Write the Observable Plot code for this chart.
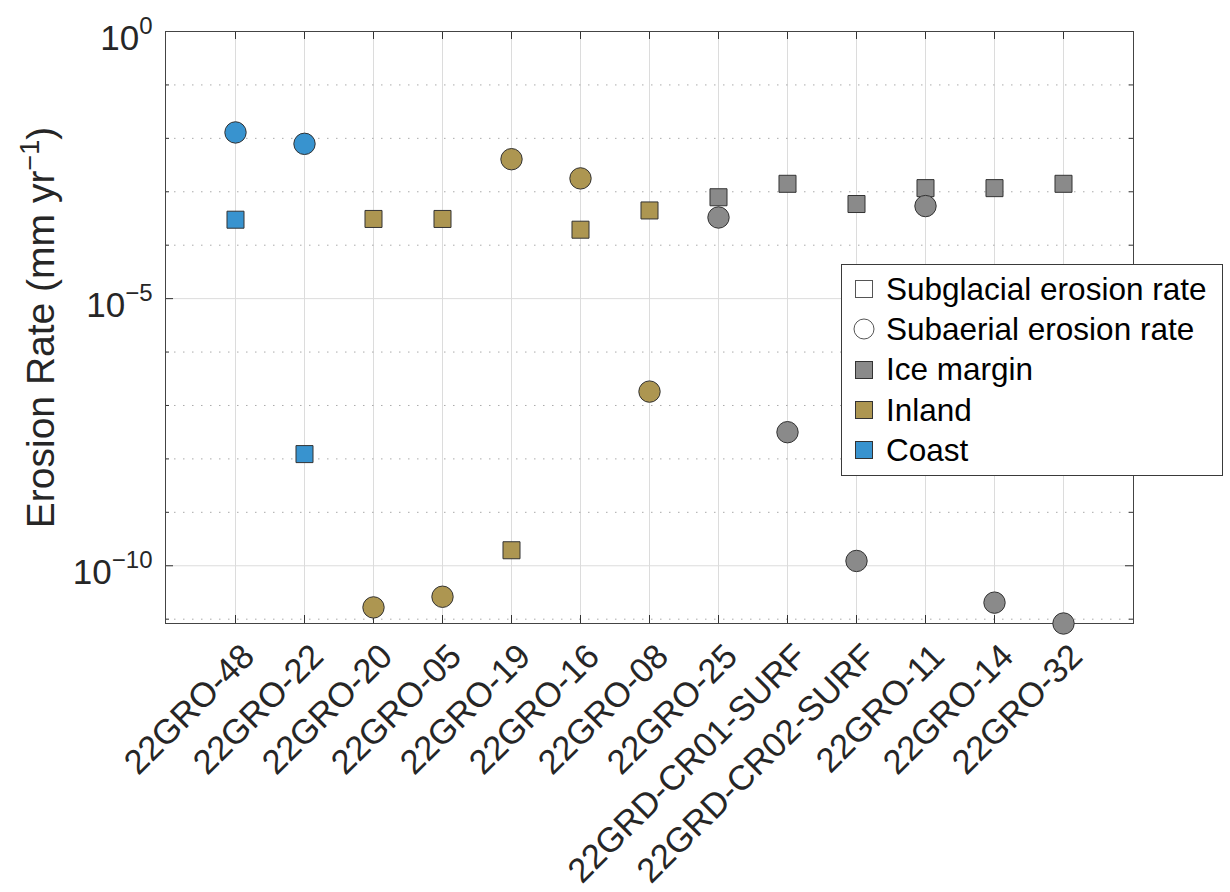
<!DOCTYPE html>
<html>
<head>
<meta charset="utf-8">
<script src="https://cdn.jsdelivr.net/npm/d3@7"></script>
<script src="https://cdn.jsdelivr.net/npm/@observablehq/plot@0.6"></script>
<style>
  body { margin: 0; background: #fff; }
  #wrap { position: relative; width: 1230px; height: 892px; font-family: "Liberation Sans", Arial, Helvetica, sans-serif; }
  #legend { position: absolute; left: 841px; top: 264px; width: 380px; height: 206px; border: 1px solid #3a3a3a; background: #fff; box-sizing: content-box; padding-top: 4px; }
  .item { display: flex; align-items: center; height: 40.3px; font-size: 31.5px; color: #000; white-space: nowrap; }
  .item svg { width: 44px; height: 24px; flex: none; }
</style>
</head>
<body>
<div id="wrap"></div>
<script>
// ---- data ----
const samples = ["22GRO-48", "22GRO-22", "22GRO-20", "22GRO-05", "22GRO-19", "22GRO-16", "22GRO-08",
  "22GRO-25", "22GRD-CR01-SURF", "22GRD-CR02-SURF", "22GRO-11", "22GRO-14", "22GRO-32"];
const region = ["Coast", "Coast", "Inland", "Inland", "Inland", "Inland", "Inland",
  "Ice margin", "Ice margin", "Ice margin", "Ice margin", "Ice margin", "Ice margin"];
const subglacialRate = [3.0e-4, 1.23e-8, 3.1e-4, 3.1e-4, 1.95e-10, 1.95e-4, 4.47e-4,
  7.9e-4, 1.41e-3, 5.9e-4, 1.17e-3, 1.17e-3, 1.41e-3];
const subaerialRate = [1.29e-2, 7.9e-3, 1.66e-11, 2.63e-11, 4.07e-3, 1.78e-3, 1.82e-7,
  3.3e-4, 3.16e-8, 1.23e-10, 5.4e-4, 2.04e-11, 8.3e-12];
const regionNames = ["Ice margin", "Inland", "Coast"];
const regionColors = ["#8a8a8a", "#ad9651", "#3893cf"];
const yMajorTicks = [1e0, 1e-5, 1e-10];
const yMinorTicks = [1e-1, 1e-2, 1e-3, 1e-4, 1e-6, 1e-7, 1e-8, 1e-9, 1e-11];
const yLimits = [8.3e-12, 1];
const yTitle = "Erosion Rate (mm yr^-1)";
const legendLabels = ["Subglacial erosion rate", "Subaerial erosion rate", "Ice margin", "Inland", "Coast"];

// ---- build ----
const subRows = samples.map((s, i) => ({sample: s, region: region[i], value: subglacialRate[i]}));
const aerRows = samples.map((s, i) => ({sample: s, region: region[i], value: subaerialRate[i]}));

const W = 1230, H = 892, mL = 165, mR = 97, mT = 31, mB = 269;
const fw = W - mL - mR, fh = H - mT - mB;
const font = '"Liberation Sans", Arial, Helvetica, sans-serif';
const tickColor = "#333";

const chart = Plot.plot({
  width: W, height: H,
  marginLeft: mL, marginRight: mR, marginTop: mT, marginBottom: mB,
  style: {fontFamily: font, background: "transparent", overflow: "visible", color: "#262626"},
  x: {type: "point", domain: samples, padding: 1, axis: null},
  y: {type: "log", domain: yLimits, axis: null},
  color: {domain: regionNames, range: regionColors},
  marks: [
    Plot.ruleX(samples, {x: d => d, stroke: "#dcdcdc", strokeWidth: 1}),
    Plot.ruleY(yMajorTicks, {y: d => d, stroke: "#dcdcdc", strokeWidth: 1}),
    Plot.ruleY(yMinorTicks, {y: d => d, stroke: "#aaaaaa", strokeWidth: 1, strokeDasharray: "1.5,7.5"}),
    Plot.ruleX(samples, {x: d => d, insetTop: fh - 8, stroke: tickColor}),
    Plot.ruleX(samples, {x: d => d, insetBottom: fh - 8, stroke: tickColor}),
    Plot.ruleY(yMajorTicks, {y: d => d, insetRight: fw - 8, stroke: tickColor}),
    Plot.ruleY(yMajorTicks, {y: d => d, insetLeft: fw - 8, stroke: tickColor}),
    Plot.ruleY(yMinorTicks, {y: d => d, insetRight: fw - 4, stroke: tickColor}),
    Plot.ruleY(yMinorTicks, {y: d => d, insetLeft: fw - 4, stroke: tickColor}),
    Plot.frame({stroke: "#444", strokeWidth: 1}),
    Plot.dot(subRows, {x: "sample", y: "value", symbol: "square", r: 9.6, fill: "region", stroke: "#333", strokeWidth: 1}),
    Plot.dot(aerRows, {x: "sample", y: "value", symbol: "circle", r: 10.7, fill: "region", stroke: "#333", strokeWidth: 1}),
    Plot.axisY({ticks: yMajorTicks, tickSize: 0, tickPadding: 13, fontSize: 35, dy: 7,
      tickFormat: d => "10^" + Math.round(Math.log10(d)), label: null, fill: "#262626"}),
    Plot.axisX({tickRotate: -45, tickSize: 0, tickPadding: 27, dx: 13, fontSize: 34.5,
      textAnchor: "end", lineAnchor: "middle", label: null, fill: "#262626"}),
    Plot.text([yTitle], {text: d => d, frameAnchor: "left", dx: -124, rotate: -90, fontSize: 39,
      textAnchor: "middle", lineAnchor: "middle", fill: "#262626"})
  ]
});

// superscripts as real tspans
function supText(textEl, base, sup, after, supSize, shift) {
  textEl.textContent = "";
  const ns = "http://www.w3.org/2000/svg";
  const t1 = document.createElementNS(ns, "tspan"); t1.textContent = base; textEl.appendChild(t1);
  const t2 = document.createElementNS(ns, "tspan"); t2.textContent = sup;
  t2.setAttribute("font-size", supSize); t2.setAttribute("dy", -shift); textEl.appendChild(t2);
  if (after) {
    const t3 = document.createElementNS(ns, "tspan"); t3.textContent = after;
    t3.setAttribute("dy", shift); textEl.appendChild(t3);
  }
}
chart.querySelectorAll("text").forEach(t => {
  const s = t.textContent;
  if (!s.includes("^")) return;
  const [b, rest] = s.split("^");
  if (s.startsWith("Erosion")) {
    supText(t, b, rest.slice(0, -1).replace("-", "\u2212"), rest.slice(-1), 27, 15);
  } else {
    supText(t, b, rest.replace("-", "\u2212"), null, 24, 16);
  }
});

const wrap = document.getElementById("wrap");
wrap.appendChild(chart);

// legend
const legend = document.createElement("div");
legend.id = "legend";
const markers = [
  `<rect x="13.5" y="3.5" width="17" height="17" fill="#fff" stroke="#555" stroke-width="1"/>`,
  `<circle cx="22" cy="12" r="10" fill="#fff" stroke="#555" stroke-width="1"/>`,
  `<rect x="13.5" y="3.5" width="17" height="17" fill="${regionColors[0]}" stroke="#333" stroke-width="1"/>`,
  `<rect x="13.5" y="3.5" width="17" height="17" fill="${regionColors[1]}" stroke="#333" stroke-width="1"/>`,
  `<rect x="13.5" y="3.5" width="17" height="17" fill="${regionColors[2]}" stroke="#333" stroke-width="1"/>`
];
legendLabels.forEach((lab, i) => {
  const row = document.createElement("div");
  row.className = "item";
  row.innerHTML = `<svg viewBox="0 0 44 24">${markers[i]}</svg><span>${lab}</span>`;
  legend.appendChild(row);
});
wrap.appendChild(legend);
</script>
</body>
</html>
